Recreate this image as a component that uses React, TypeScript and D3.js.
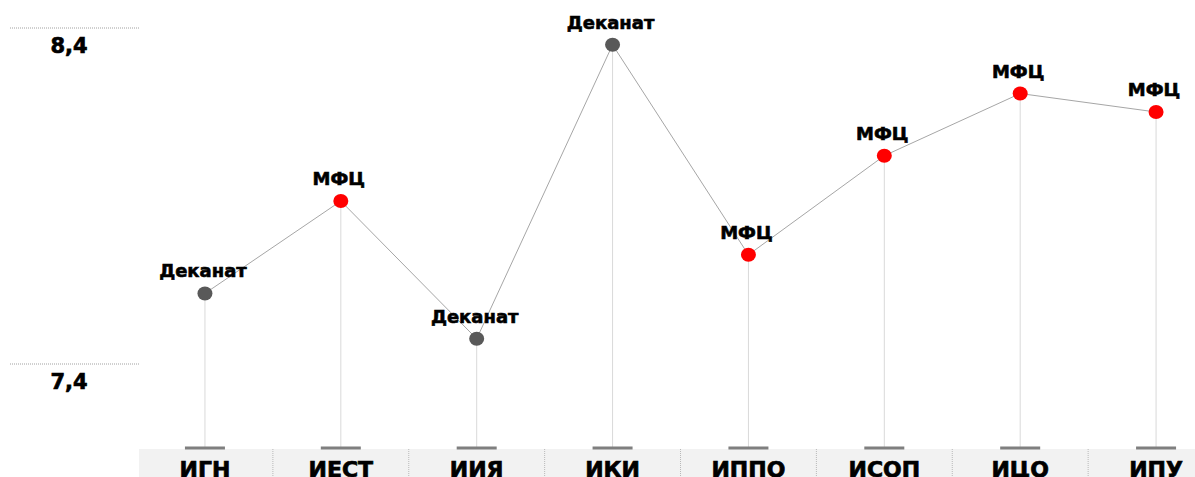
import React, { useEffect, useRef } from "react";
import * as d3 from "d3";

const categories = ["ИГН", "ИЕСТ", "ИИЯ", "ИКИ", "ИППО", "ИСОП", "ИЦО", "ИПУ"];
const values = [7.61, 7.885, 7.475, 8.35, 7.725, 8.02, 8.205, 8.15];
const pointLabels = ["Деканат", "МФЦ", "Деканат", "Деканат", "МФЦ", "МФЦ", "МФЦ", "МФЦ"];
const yTicks = [7.4, 8.4];

const W = 1195;
const H = 477;

const App = () => {
  const ref = useRef<SVGSVGElement>(null);

  useEffect(() => {
    const svg = d3.select(ref.current);
    svg.selectAll("*").remove();

    const x = d3.scaleBand().domain(categories).range([137, 1224]).padding(0);
    const y = d3.scaleLinear().domain([7.4, 8.4]).range([364, 28]);
    const cx = (c: string) => (x(c) as number) + x.bandwidth() / 2;
    const font = "'DejaVu Sans', Verdana, sans-serif";

    // y grid marks + labels
    const yg = svg.append("g");
    yTicks.forEach((t) => {
      yg.append("line")
        .attr("x1", 10).attr("x2", 140)
        .attr("y1", y(t)).attr("y2", y(t))
        .attr("stroke", "#a0a0a0")
        .attr("stroke-width", 1)
        .attr("stroke-dasharray", "1,1");
      yg.append("text")
        .attr("x", 69).attr("y", y(t) + 25)
        .attr("text-anchor", "middle")
        .attr("font-family", font)
        .attr("font-weight", "bold")
        .attr("font-size", 21)
        .attr("stroke", "#000").attr("stroke-width", 0.7)
        .text(String(t).replace(".", ","));
    });

    // category band
    svg.append("rect")
      .attr("x", 139).attr("y", 449)
      .attr("width", W - 139).attr("height", H - 449)
      .attr("fill", "#f2f2f2");
    categories.slice(1).forEach((c) => {
      svg.append("line")
        .attr("x1", x(c) as number).attr("x2", x(c) as number)
        .attr("y1", 449).attr("y2", H)
        .attr("stroke", "#b8b8b8")
        .attr("stroke-dasharray", "1,1");
    });
    svg.selectAll(".cat")
      .data(categories)
      .enter().append("text")
      .attr("x", (d) => cx(d))
      .attr("y", 477)
      .attr("text-anchor", "middle")
      .attr("font-family", font)
      .attr("font-weight", "bold")
      .attr("font-size", 22)
      .attr("stroke", "#000").attr("stroke-width", 0.7)
      .text((d) => d);

    // drop lines + base ticks
    categories.forEach((c, i) => {
      svg.append("line")
        .attr("x1", cx(c)).attr("x2", cx(c))
        .attr("y1", y(values[i])).attr("y2", 447)
        .attr("stroke", "#d9d9d9");
      svg.append("rect")
        .attr("x", cx(c) - 20).attr("y", 446.5)
        .attr("width", 40).attr("height", 3)
        .attr("fill", "#7f7f7f");
    });

    // connecting line
    const line = d3.line<number>()
      .x((_, i) => cx(categories[i]))
      .y((d) => y(d));
    svg.append("path")
      .datum(values)
      .attr("d", line)
      .attr("fill", "none")
      .attr("stroke", "#a6a6a6")
      .attr("stroke-width", 1);

    // points
    svg.selectAll(".pt")
      .data(values)
      .enter().append("ellipse")
      .attr("cx", (_, i) => cx(categories[i]))
      .attr("cy", (d) => y(d))
      .attr("rx", 7.5).attr("ry", 7)
      .attr("fill", (_, i) => (pointLabels[i] === "МФЦ" ? "#ff0000" : "#595959"));

    // point labels
    svg.selectAll(".lbl")
      .data(values)
      .enter().append("text")
      .attr("x", (_, i) => cx(categories[i]) - 2)
      .attr("y", (d) => y(d) - 16)
      .attr("text-anchor", "middle")
      .attr("font-family", font)
      .attr("font-weight", "bold")
      .attr("font-size", 18)
      .attr("stroke", "#000").attr("stroke-width", 0.6)
      .text((_, i) => pointLabels[i]);
  }, []);

  return <svg ref={ref} width={W} height={H} style={{ position: "absolute", left: 0, top: 0 }} />;
};

export default App;
